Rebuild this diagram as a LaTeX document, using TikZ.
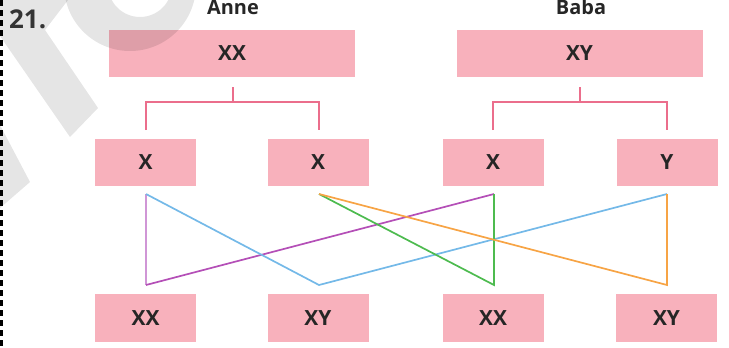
\documentclass[tikz,border=0pt]{standalone}
\usepackage{fontspec}
\setmainfont{Open Sans}
\definecolor{boxpink}{HTML}{F8B1BC}
\definecolor{treepink}{HTML}{EB6E8C}
\definecolor{txtdark}{HTML}{262626}
\definecolor{numgray}{HTML}{3A3A3A}
\definecolor{lpurple}{HTML}{D096D6}
\definecolor{dpurple}{HTML}{B44FB7}
\definecolor{lblue}{HTML}{74B9E8}
\definecolor{lgreen}{HTML}{4DBB4F}
\definecolor{lorange}{HTML}{F7A445}
\begin{document}
\begin{tikzpicture}[x=1bp,y=-1bp,
  box/.style={fill=boxpink, draw=none, inner sep=0pt, minimum height=47bp,
    text=txtdark, font=\bfseries\fontsize{21}{24}\selectfont},
  small/.style={box, minimum width=101bp},
  big/.style={box, minimum width=246bp},
  title/.style={text=txtdark, font=\bfseries\fontsize{20}{24}\selectfont, inner sep=0pt},
  tree/.style={draw=treepink, line width=2bp},
  cross/.style={line width=1.7bp},
  wm/.style={fill=black, fill opacity=0.1}
]
\useasboundingbox (0,0) rectangle (729,347);

% dashed left border
\coordinate (bt) at (1.3,0);
\coordinate (bb) at (1.3,347);
\draw[line width=2.6bp, dash pattern=on 6bp off 4bp, black] (bt) -- (bb);

% number and titles
\node[anchor=west, inner sep=0pt, text=numgray, font=\bfseries\fontsize{26}{30}\selectfont] (num) at (9,19) {21.};
\node[title] (anneT) at (233,7.5) {Anne};
\node[title] (babaT) at (581,7.5) {Baba};

% parent boxes
\node[big] (anne) at (232,53.5) {XX};
\node[big] (baba) at (579.5,53.5) {XY};

% gametes
\node[small] (g1) at (145.5,162.5) {X};
\node[small] (g2) at (318,162.5) {X};
\node[small] (g3) at (493,162.5) {X};
\node[small] (g4) at (667,162.5) {Y};

% offspring
\node[small, minimum height=48bp] (c1) at (145.5,318) {XX};
\node[small, minimum height=48bp] (c2) at (318,318) {XY};
\node[small, minimum height=48bp] (c3) at (493,318) {XX};
\node[small, minimum height=48bp] (c4) at (666.5,318) {XY};

% tree connectors
\coordinate (aS) at (233,87);
\coordinate (aJ) at (233,102);
\coordinate (aL) at (146,130);
\coordinate (aR) at (319,130);
\draw[tree] (aS) -- (aJ);
\draw[tree] (aL) |- (aJ) -| (aR);
\coordinate (bS) at (580,87);
\coordinate (bJ) at (580,102);
\coordinate (bL) at (493,130);
\coordinate (bR) at (667,130);
\draw[tree] (bS) -- (bJ);
\draw[tree] (bL) |- (bJ) -| (bR);

% crossing points
\coordinate (t1) at (146,194);
\coordinate (t2) at (319,194);
\coordinate (t3) at (494,194);
\coordinate (t4) at (667,194);
\coordinate (b1) at (146,285);
\coordinate (b2) at (319,285);
\coordinate (b3) at (494,285);
\coordinate (b4) at (667,285);

\draw[cross, lpurple] (t1) -- (b1);
\draw[cross, dpurple] (b1) -- (t3);
\draw[cross, lblue] (t1) -- (b2) -- (t4);
\draw[cross, lgreen] (t2) -- (b3) -- (t3);
\draw[cross, lorange] (t2) -- (b4) -- (t4);

% watermark fragments
\fill[wm, even odd rule] (130,-15) circle (66) (140,-15) circle (32);
\fill[wm] (0,36) -- (70,137) -- (98,108) -- (45,30) -- (68,0) -- (0,0) -- cycle;
\fill[wm] (0,125) -- (30,182) -- (0,208) -- cycle;
\end{tikzpicture}
\end{document}
